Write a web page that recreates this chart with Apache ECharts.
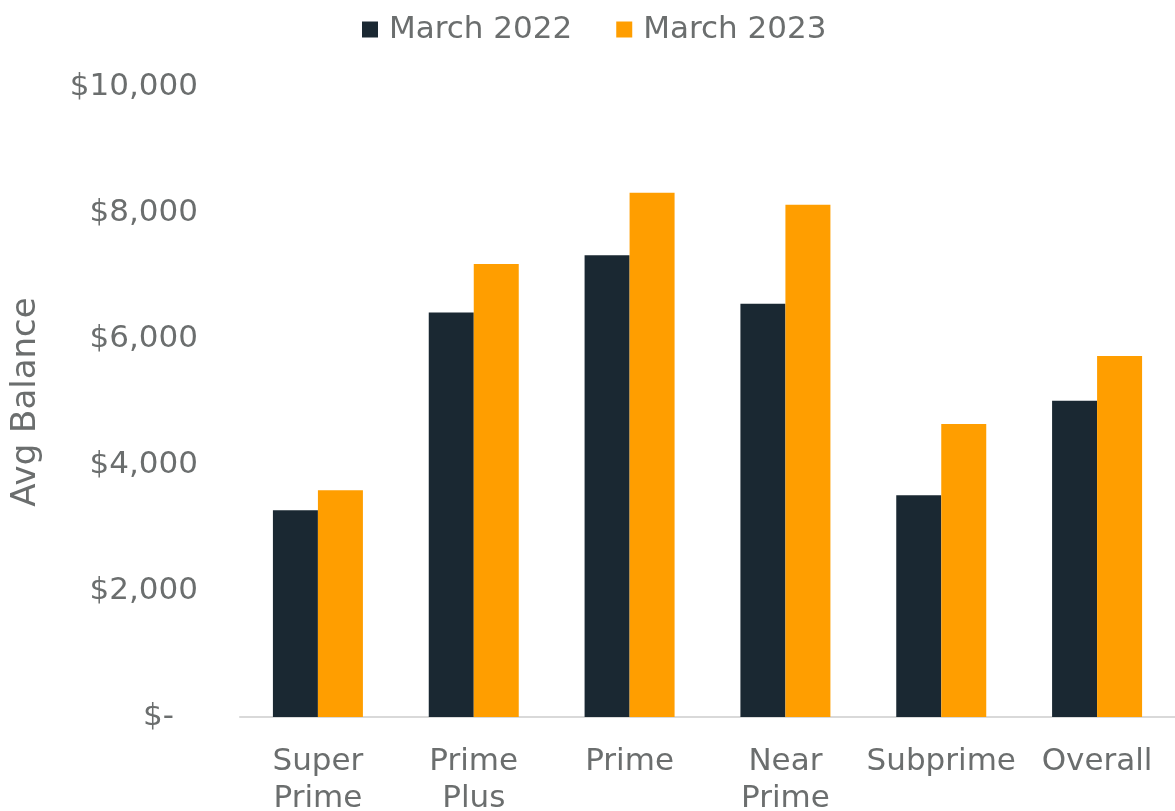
<!DOCTYPE html>
<html>
<head>
<meta charset="utf-8">
<script src="https://cdn.jsdelivr.net/npm/echarts@6/dist/echarts.min.js"></script>
<style>
  html, body { margin: 0; padding: 0; background: #ffffff; }
  #chart { width: 1175px; height: 811px; }
</style>
</head>
<body>
<div id="chart"></div>
<script>
// Average balance by credit tier
const categories = ['Super\nPrime', 'Prime\nPlus', 'Prime', 'Near\nPrime', 'Subprime', 'Overall'];
const seriesNames = ['March 2022', 'March 2023'];
const march2022 = [3280, 6420, 7330, 6560, 3520, 5020];
const march2023 = [3600, 7190, 8320, 8130, 4650, 5730];
const yTicks = [0, 2000, 4000, 6000, 8000, 10000];

const FONT = 'DejaVu Sans';
const TEXT = '#6b6e6e';
const DARK = '#1a2832';
const ORANGE = '#ff9e00';

const chart = echarts.init(document.getElementById('chart'));

function money(v) {
  if (v === 0) return '{z|$-}';
  return '{n|$' + v.toLocaleString('en-US') + '}';
}

chart.setOption({
  animation: false,
  textStyle: { fontFamily: FONT },
  legend: {
    data: seriesNames,
    top: 9,
    left: 357,
    itemWidth: 16,
    itemHeight: 16,
    itemGap: 44,
    icon: 'rect',
    textStyle: { fontFamily: FONT, fontSize: 31, color: TEXT, padding: [0, 0, 0, 6] }
  },
  grid: { left: 240, right: 0, top: 87, bottom: 94, outerBoundsMode: 'none', containLabel: false },
  xAxis: {
    type: 'category',
    data: categories,
    axisLine: { lineStyle: { color: '#d9d9d9', width: 2 } },
    axisTick: { show: false },
    axisLabel: {
      fontFamily: FONT,
      fontSize: 31,
      color: TEXT,
      lineHeight: 37,
      margin: 26,
      interval: 0
    }
  },
  yAxis: {
    type: 'value',
    min: yTicks[0],
    max: yTicks[yTicks.length - 1],
    interval: 2000,
    name: 'Avg Balance',
    nameLocation: 'middle',
    nameGap: 197,
    nameRotate: 90,
    nameTextStyle: { fontFamily: FONT, fontSize: 34, color: TEXT },
    axisLine: { show: false },
    axisTick: { show: false },
    splitLine: { show: false },
    axisLabel: {
      formatter: money,
      margin: 42,
      rich: {
        n: { fontFamily: FONT, fontSize: 31, color: TEXT },
        z: { fontFamily: FONT, fontSize: 31, color: TEXT, padding: [0, 24, 0, 0] }
      }
    }
  },
  series: [
    {
      name: seriesNames[0],
      type: 'bar',
      data: march2022,
      barWidth: 45,
      barGap: '0%',
      itemStyle: { color: DARK }
    },
    {
      name: seriesNames[1],
      type: 'bar',
      data: march2023,
      barWidth: 45,
      barGap: '0%',
      itemStyle: { color: ORANGE }
    }
  ]
});
</script>
</body>
</html>
